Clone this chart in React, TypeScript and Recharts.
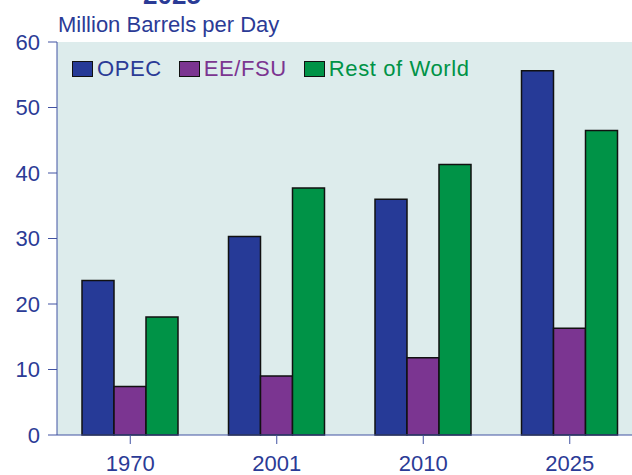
import React from "react";
import { BarChart, Bar, XAxis, YAxis, CartesianGrid, Legend } from "recharts";

const years = ["1970", "2001", "2010", "2025"];
const opec = [23.6, 30.3, 36.0, 55.6];
const eeFsu = [7.4, 9.0, 11.8, 16.3];
const restOfWorld = [18.0, 37.7, 41.3, 46.5];
const yTicks = [0, 10, 20, 30, 40, 50, 60];

const NAVY = "#2B3B96";
const AXIS = "#4152A2";
const FONT = "'Liberation Sans', Arial, Helvetica, sans-serif";

const series = [
  { key: "opec", name: "OPEC", color: "#263A97", text: NAVY },
  { key: "eeFsu", name: "EE/FSU", color: "#7B3591", text: "#7B3591" },
  { key: "row", name: "Rest of World", color: "#009347", text: "#009347" },
];

const data = years.map((year, i) => ({
  year,
  opec: opec[i],
  eeFsu: eeFsu[i],
  row: restOfWorld[i],
}));

// legend drawn inside the plot, top-left
const LegendBox = () => (
  <div style={{ display: "flex", alignItems: "center", fontFamily: FONT, fontSize: 22, whiteSpace: "nowrap" }}>
    {series.map((s) => (
      <div key={s.key} style={{ display: "flex", alignItems: "center", marginRight: 17 }}>
        <span
          style={{
            width: 19,
            height: 14,
            background: s.color,
            border: "1.5px solid #111",
            marginRight: 4,
          }}
        />
        <span style={{ color: s.text, lineHeight: "22px", letterSpacing: 0.6 }}>{s.name}</span>
      </div>
    ))}
  </div>
);

export default function App() {
  return (
    <div style={{ position: "absolute", left: 0, top: 0, width: 632, height: 475, overflow: "hidden", background: "#fff" }}>
      <svg width={632} height={40} style={{ position: "absolute", left: 0, top: 0 }}>
        <text x={172} y={3.5} textAnchor="middle" fontFamily={FONT} fontWeight="bold" fontSize={26} fill={NAVY}>
          2025
        </text>
        <text x={58} y={32} fontFamily={FONT} fontSize={22} fill={NAVY}>
          Million Barrels per Day
        </text>
      </svg>
      <div style={{ position: "absolute", left: 0, top: 0 }}>
        <BarChart
          width={643}
          height={475}
          data={data}
          margin={{ top: 42, right: 0, bottom: 0, left: 0 }}
          barSize={32}
          barGap={0}
        >
          <CartesianGrid fill="#DDECEC" horizontal={false} vertical={false} />
          <XAxis
            dataKey="year"
            height={40}
            stroke={AXIS}
            tickSize={9}
            tickMargin={11}
            tick={{ fill: NAVY, fontSize: 22, fontFamily: FONT }}
          />
          <YAxis
            width={57}
            domain={[0, 60]}
            ticks={yTicks}
            stroke={AXIS}
            tickSize={9}
            tickMargin={8}
            tick={{ fill: NAVY, fontSize: 22, fontFamily: FONT }}
          />
          <Legend
            layout="horizontal"
            verticalAlign="middle"
            align="center"
            content={<LegendBox />}
            wrapperStyle={{ position: "absolute", top: 58, left: 72, width: "auto" }}
          />
          {series.map((s) => (
            <Bar
              key={s.key}
              dataKey={s.key}
              name={s.name}
              fill={s.color}
              stroke="#111"
              strokeWidth={1.5}
              isAnimationActive={false}
            />
          ))}
        </BarChart>
      </div>
    </div>
  );
}
